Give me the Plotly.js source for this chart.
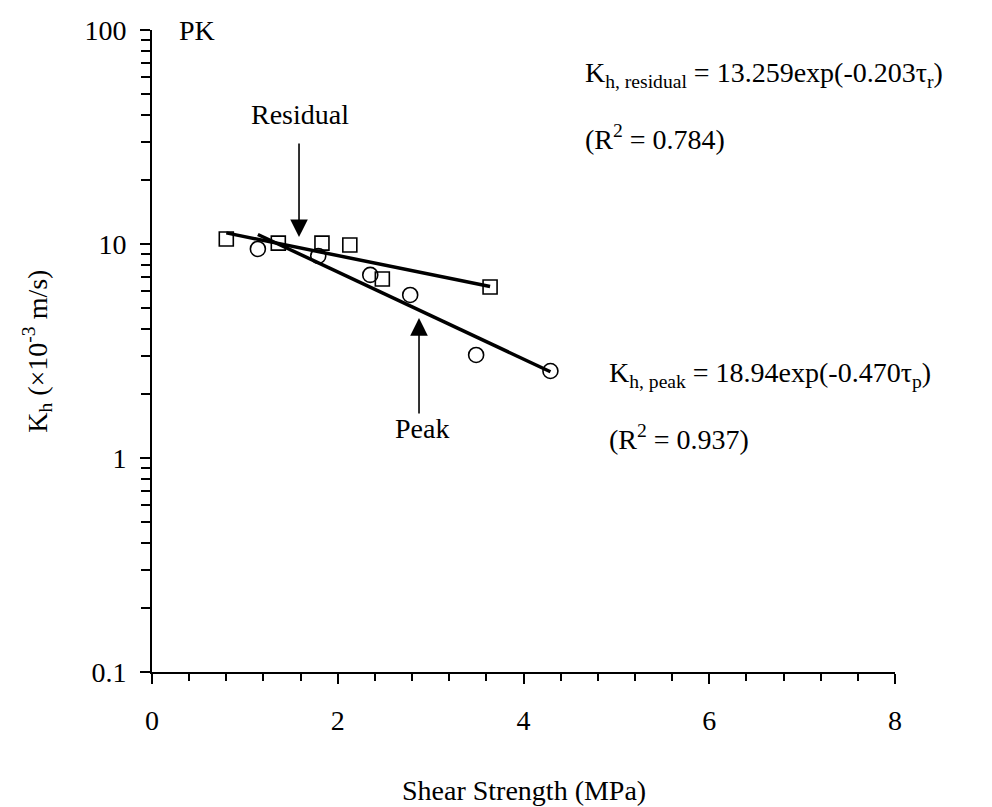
<!DOCTYPE html>
<html>
<head>
<meta charset="utf-8">
<script src="https://cdn.plot.ly/plotly-3.0.1.min.js"></script>
<style>html,body{margin:0;padding:0;background:#fff;}#chart{width:992px;height:807px;}</style>
</head>
<body>
<div id="chart"></div>
<script>
// Data
const residualX = [0.80, 1.36, 1.83, 2.13, 2.48, 3.64];
const residualY = [10.55, 10.1, 10.1, 9.9, 6.86, 6.3];
const peakX = [1.14, 1.79, 2.35, 2.78, 3.49, 4.29];
const peakY = [9.48, 8.79, 7.17, 5.78, 3.03, 2.55];
// Trend line endpoints (exponential fits, straight on log axis)
const residualFitX = [0.80, 3.64];
const residualFitY = [11.27, 6.33];
const peakFitX = [1.14, 4.29];
const peakFitY = [11.08, 2.53];
const xTickVals = [0, 2, 4, 6, 8];
const yTickVals = [0.1, 1, 10, 100];
const yTickText = ['0.1', '1', '10', '100'];

const FONT = 'Liberation Serif';
const FS = 28;

const traces = [
  {x: residualFitX, y: residualFitY, mode: 'lines', line: {color: '#000', width: 3.5}, hoverinfo: 'skip'},
  {x: peakFitX, y: peakFitY, mode: 'lines', line: {color: '#000', width: 3.5}, hoverinfo: 'skip'},
  {x: residualX, y: residualY, mode: 'markers', marker: {symbol: 'square-open', size: 14, color: '#000', line: {width: 1.6}}},
  {x: peakX, y: peakY, mode: 'markers', marker: {symbol: 'circle-open', size: 15, color: '#000', line: {width: 1.6}}}
];

const layout = {
  width: 992, height: 807,
  margin: {l: 152, r: 97, t: 30, b: 135},
  paper_bgcolor: '#fff', plot_bgcolor: '#fff',
  showlegend: false,
  font: {family: FONT, size: FS, color: '#000'},
  xaxis: {
    range: [0, 8], tickvals: xTickVals, showgrid: false, zeroline: false,
    showline: true, linecolor: '#000', linewidth: 2,
    ticks: 'outside', ticklen: 10, tickwidth: 2, tickcolor: '#000',
    ticklabelstandoff: 12,
    minor: {dtick: 0.4, ticks: 'outside', ticklen: 7, tickwidth: 2, tickcolor: '#000', showgrid: false},
    tickfont: {family: FONT, size: FS}
  },
  yaxis: {
    type: 'log', range: [-1, 2], tickvals: yTickVals, ticktext: yTickText,
    showgrid: false, zeroline: false,
    showline: true, linecolor: '#000', linewidth: 2,
    ticks: 'outside', ticklen: 10, tickwidth: 2, tickcolor: '#000',
    ticklabelstandoff: 8,
    minor: {dtick: 'D1', ticks: 'outside', ticklen: 9, tickwidth: 2, tickcolor: '#000', showgrid: false},
    tickfont: {family: FONT, size: FS}
  },
  annotations: [
    {xref: 'paper', yref: 'paper', x: 0.5, y: -0.184, yanchor: 'middle', xanchor: 'center', showarrow: false,
     text: 'Shear Strength (MPa)', font: {family: FONT, size: FS}},
    {xref: 'paper', yref: 'paper', x: -0.155, y: 0.5, xanchor: 'center', yanchor: 'middle', showarrow: false, textangle: -90,
     text: 'K<sub>h</sub> (×10<sup>-3</sup> m/s)', font: {family: FONT, size: FS}},
    {x: 0.48, y: 2.0, xanchor: 'center', yanchor: 'middle', showarrow: false, text: 'PK', font: {family: FONT, size: FS}},
    {x: 1.594, y: 1.603, xanchor: 'center', yanchor: 'middle', showarrow: false, text: 'Residual', font: {family: FONT, size: FS}},
    {x: 2.907, y: 0.140, xanchor: 'center', yanchor: 'middle', showarrow: false, text: 'Peak', font: {family: FONT, size: FS}},
    {x: 1.583, y: 1.0327, ax: 0, ay: -95, text: '', showarrow: true, arrowhead: 2, arrowsize: 2.2, arrowwidth: 1.6, arrowcolor: '#000'},
    {x: 2.875, y: 0.654, ax: 0, ay: 97, text: '', showarrow: true, arrowhead: 2, arrowsize: 2.2, arrowwidth: 1.6, arrowcolor: '#000'},
    {x: 4.64, y: 1.79, xanchor: 'left', yanchor: 'middle', showarrow: false,
     text: 'K<sub>h, residual</sub> = 13.259exp(-0.203τ<sub>r</sub>)', font: {family: FONT, size: FS}},
    {x: 4.64, y: 1.50, xanchor: 'left', yanchor: 'middle', showarrow: false,
     text: '(R<sup>2</sup> = 0.784)', font: {family: FONT, size: FS}},
    {x: 4.90, y: 0.388, xanchor: 'left', yanchor: 'middle', showarrow: false,
     text: 'K<sub>h, peak</sub> = 18.94exp(-0.470τ<sub>p</sub>)', font: {family: FONT, size: FS}},
    {x: 4.90, y: 0.098, xanchor: 'left', yanchor: 'middle', showarrow: false,
     text: '(R<sup>2</sup> = 0.937)', font: {family: FONT, size: FS}}
  ]
};

Plotly.newPlot('chart', traces, layout, {displayModeBar: false, staticPlot: true});
</script>
</body>
</html>
